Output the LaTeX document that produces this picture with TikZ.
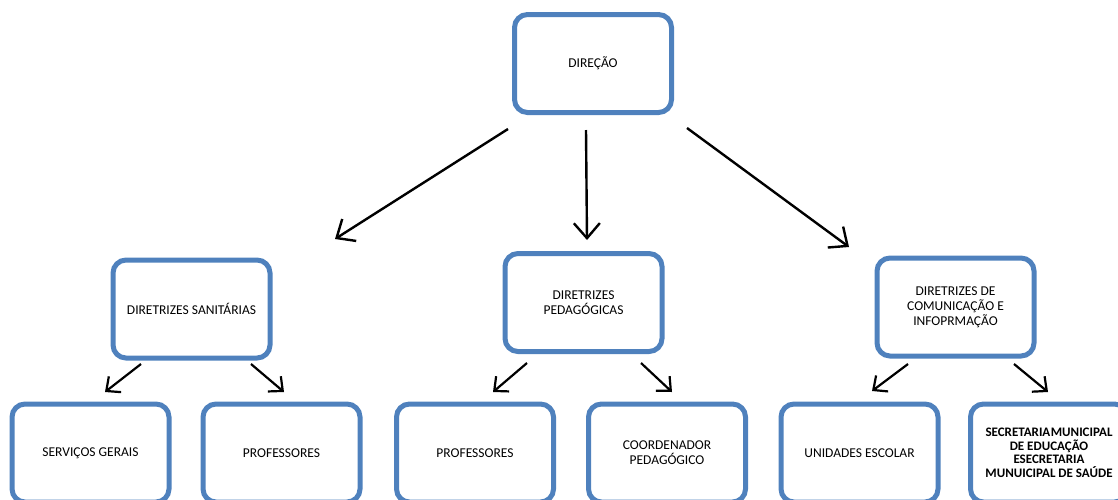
\documentclass[tikz,border=0pt]{standalone}
\usepackage{fontspec}
\setmainfont{Carlito}
\usetikzlibrary{arrows.meta}

\definecolor{boxblue}{HTML}{4F81BD}

\tikzset{
  caixa/.style={draw=boxblue, line width=5pt, rounded corners=13pt, minimum width=157pt, minimum height=98pt, align=center, inner sep=0pt, font=\fontsize{13.5}{15}\selectfont},
  setagrande/.style={line width=2.4pt, -{Straight Barb[length=15pt,width=26pt,line width=2.4pt]}},
  setapequena/.style={line width=2.2pt, -{Straight Barb[length=11pt,width=20pt,line width=2.2pt]}}
}

\begin{document}
\begin{tikzpicture}[x=1pt, y=-1pt]
    \useasboundingbox (0,0) rectangle (1118,499);
    \clip (0,0) rectangle (1118,499);

    % Topo
    \node[caixa] (direcao) at (593,63.5) {DIREÇÃO};

    % Diretrizes
    \node[caixa] (sanit) at (191.5,309) {DIRETRIZES SANITÁRIAS};
    \node[caixa] (pedag) at (583.5,302.5) {DIRETRIZES\\PEDAGÓGICAS};
    \node[caixa] (comun) at (955.5,307) {DIRETRIZES DE\\COMUNICAÇÃO E\\INFOPRMAÇÃO};

    % Base
    \node[caixa] (servicos) at (90.5,453) {SERVIÇOS GERAIS};
    \node[caixa] (prof1) at (281.5,453) {PROFESSORES};
    \node[caixa] (prof2) at (475,453) {PROFESSORES};
    \node[caixa] (coord) at (667,453) {COORDENADOR\\PEDAGÓGICO};
    \node[caixa] (unid) at (859.5,453) {UNIDADES ESCOLAR};
    \node[caixa, font=\fontsize{13}{13.5}\selectfont\bfseries] (secret) at (1049,453) {SECRETARIA\hspace{0.5pt}MUNICIPAL\\DE EDUCAÇÃO\\ESECRETARIA\\MUNUICIPAL DE SAÚDE};

    % setas do topo
    \coordinate (s1a) at (508,129);
    \coordinate (s1b) at (335,239);
    \coordinate (s2a) at (586,130);
    \coordinate (s2b) at (587,240);
    \coordinate (s3a) at (687,128);
    \coordinate (s3b) at (849,247);
    \draw[setagrande] (s1a) -- (s1b);
    \draw[setagrande] (s2a) -- (s2b);
    \draw[setagrande] (s3a) -- (s3b);

    % setas de baixo
    \coordinate (p1a) at (141,364);
    \coordinate (p1b) at (105,392);
    \coordinate (p2a) at (251,364);
    \coordinate (p2b) at (284,392);
    \coordinate (p3a) at (527,363);
    \coordinate (p3b) at (493,392);
    \coordinate (p4a) at (641,363);
    \coordinate (p4b) at (672,392);
    \coordinate (p5a) at (908,364);
    \coordinate (p5b) at (872,391);
    \coordinate (p6a) at (1014,364);
    \coordinate (p6b) at (1048,392);
    \foreach \a/\b in {p1a/p1b,p2a/p2b,p3a/p3b,p4a/p4b,p5a/p5b,p6a/p6b}
        \draw[setapequena] (\a) -- (\b);
\end{tikzpicture}
\end{document}
